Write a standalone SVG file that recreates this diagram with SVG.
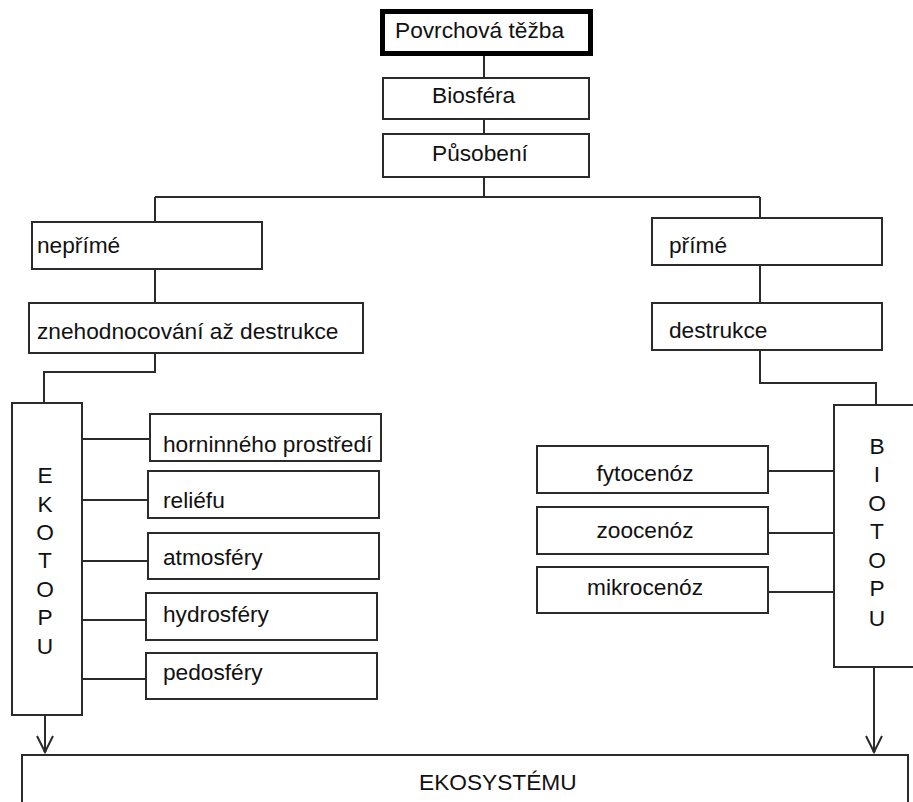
<svg xmlns="http://www.w3.org/2000/svg" width="913" height="802" viewBox="0 0 913 802">
<style>
.box{fill:#fff;stroke:#2b2b2b;stroke-width:2}
.thick{fill:#fff;stroke:#000;stroke-width:5}
.t{font-family:"Liberation Sans",Arial,sans-serif;font-size:22.7px;fill:#111}
.c{text-anchor:middle}
.ln{fill:none;stroke:#2b2b2b;stroke-width:2}
</style>
<defs>
<marker id="v" markerUnits="userSpaceOnUse" markerWidth="20" markerHeight="20" refX="18" refY="10" orient="auto" viewBox="0 0 20 20">
<path d="M2,2 L18,10 L2,18" fill="none" stroke="#2b2b2b" stroke-width="2"/>
<circle cx="17" cy="10" r="1.6" fill="#2b2b2b"/>
</marker>
</defs>
<g id="connectors">
<path class="ln" d="M484,56 V78 M484,119 V134 M484,177 V197 M155,197 H760 M155,197 V222 M155,269 V303 M155,353 V372 H44 V403 M760,197 V218 M760,265 V303 M760,350 V383 H876 V405"/>
<path class="ln" d="M82,439 H150 M82,500 H148 M82,561 H148 M82,620 H146 M82,679 H146"/>
<path class="ln" d="M768,471 H834 M768,533 H834 M768,592 H834"/>
<path class="ln" d="M45,715 V752" marker-end="url(#v)"/>
<path class="ln" d="M874,667 V752" marker-end="url(#v)"/>
</g>
<g id="povrchova"><rect class="thick" x="382.5" y="11.5" width="208" height="42"/><text class="t" x="395" y="38">Povrchová těžba</text></g>
<g id="biosfera"><rect class="box" x="383" y="78" width="206" height="41"/><text class="t" x="432" y="103">Biosféra</text></g>
<g id="pusobeni"><rect class="box" x="383" y="134" width="206" height="43"/><text class="t" x="432" y="161">Působení</text></g>
<g id="neprime"><rect class="box" x="32" y="222" width="230" height="47"/><text class="t" x="37" y="253">nepřímé</text></g>
<g id="znehodnocovani"><rect class="box" x="29" y="303" width="334" height="50"/><text class="t" x="37" y="339">znehodnocování až destrukce</text></g>
<g id="prime"><rect class="box" x="652" y="218" width="230" height="47"/><text class="t" x="669" y="253">přímé</text></g>
<g id="destrukce"><rect class="box" x="652" y="303" width="230" height="47"/><text class="t" x="669" y="338">destrukce</text></g>
<g id="ekotopu"><rect class="box" x="12" y="403" width="70" height="312"/>
<text class="t c"><tspan x="45" y="483">E</tspan><tspan x="45" y="512">K</tspan><tspan x="45" y="540">O</tspan><tspan x="45" y="568">T</tspan><tspan x="45" y="597">O</tspan><tspan x="45" y="625">P</tspan><tspan x="45" y="654">U</tspan></text></g>
<g id="horninneho"><rect class="box" x="150" y="414" width="231" height="47"/><text class="t" x="163" y="452">horninného prostředí</text></g>
<g id="reliefu"><rect class="box" x="148" y="471" width="231" height="47"/><text class="t" x="163" y="508">reliéfu</text></g>
<g id="atmosfery"><rect class="box" x="148" y="533" width="231" height="46"/><text class="t" x="163" y="565">atmosféry</text></g>
<g id="hydrosfery"><rect class="box" x="146" y="593" width="231" height="47"/><text class="t" x="163" y="622">hydrosféry</text></g>
<g id="pedosfery"><rect class="box" x="146" y="653" width="231" height="46"/><text class="t" x="163" y="680">pedosféry</text></g>
<g id="biotopu"><rect class="box" x="834" y="405" width="90" height="262"/>
<text class="t c"><tspan x="877" y="454">B</tspan><tspan x="877" y="482">I</tspan><tspan x="877" y="511">O</tspan><tspan x="877" y="539">T</tspan><tspan x="877" y="568">O</tspan><tspan x="877" y="596">P</tspan><tspan x="877" y="626">U</tspan></text></g>
<g id="fytocenoz"><rect class="box" x="537" y="446" width="231" height="47"/><text class="t c" x="645" y="481">fytocenóz</text></g>
<g id="zoocenoz"><rect class="box" x="537" y="507" width="231" height="47"/><text class="t c" x="645" y="538">zoocenóz</text></g>
<g id="mikrocenoz"><rect class="box" x="537" y="567" width="231" height="46"/><text class="t c" x="645" y="595">mikrocenóz</text></g>
<g id="ekosystemu"><rect class="box" x="22" y="755" width="886" height="60"/><text class="t" x="419" y="790">EKOSYSTÉMU</text></g>
</svg>
